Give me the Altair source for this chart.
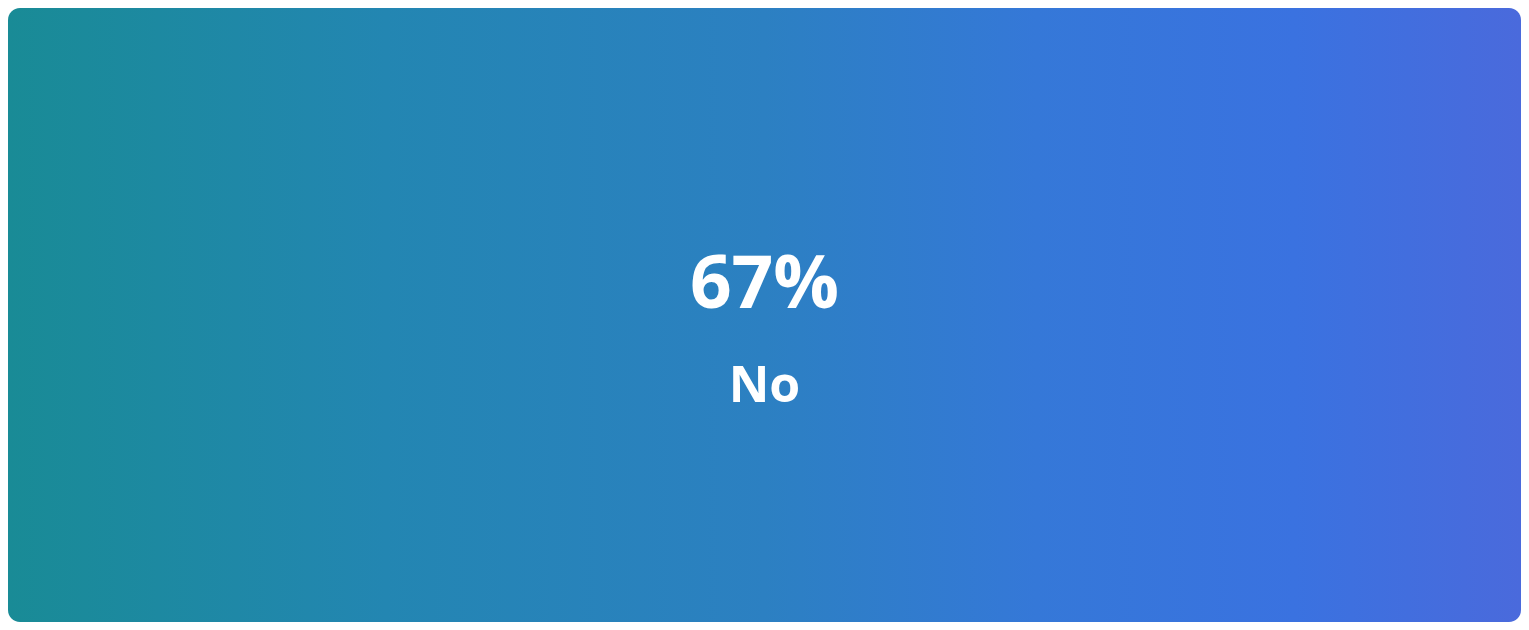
import altair as alt
import pandas as pd

values = ["67%"]
labels = ["No"]

W, H = 1513, 614

df = pd.DataFrame({"value": values, "label": labels})

grad = alt.LinearGradient(
    gradient="linear",
    stops=[
        alt.GradientStop(color="#198b96", offset=0.0),
        alt.GradientStop(color="#2386b2", offset=0.25),
        alt.GradientStop(color="#2c80c2", offset=0.5),
        alt.GradientStop(color="#3578d8", offset=0.68),
        alt.GradientStop(color="#3a72e0", offset=0.85),
        alt.GradientStop(color="#4a6adc", offset=1.0),
    ],
    x1=0, x2=1, y1=0, y2=0,
)

base = alt.Chart(df)

bg = base.mark_rect(color=grad, cornerRadius=12).encode(
    x=alt.value(0), x2=alt.value(W), y=alt.value(0), y2=alt.value(H)
)

big = base.mark_text(
    font="Open Sans, Noto Sans, sans-serif", fontSize=73, fontWeight="bold", color="white",
    align="center", baseline="alphabetic",
).encode(x=alt.value(W / 2), y=alt.value(300), text="value:N")

small = base.mark_text(
    font="Open Sans, Noto Sans, sans-serif", fontSize=50, fontWeight="bold", color="white",
    align="center", baseline="alphabetic",
).encode(x=alt.value(W / 2), y=alt.value(394), text="label:N")

chart = alt.layer(bg, big, small).properties(
    width=W, height=H, padding=0,
    autosize=alt.AutoSizeParams(type="none"),
).configure_view(stroke=None)

chart.save("out.html", embed_options={"renderer": "svg", "actions": False})
